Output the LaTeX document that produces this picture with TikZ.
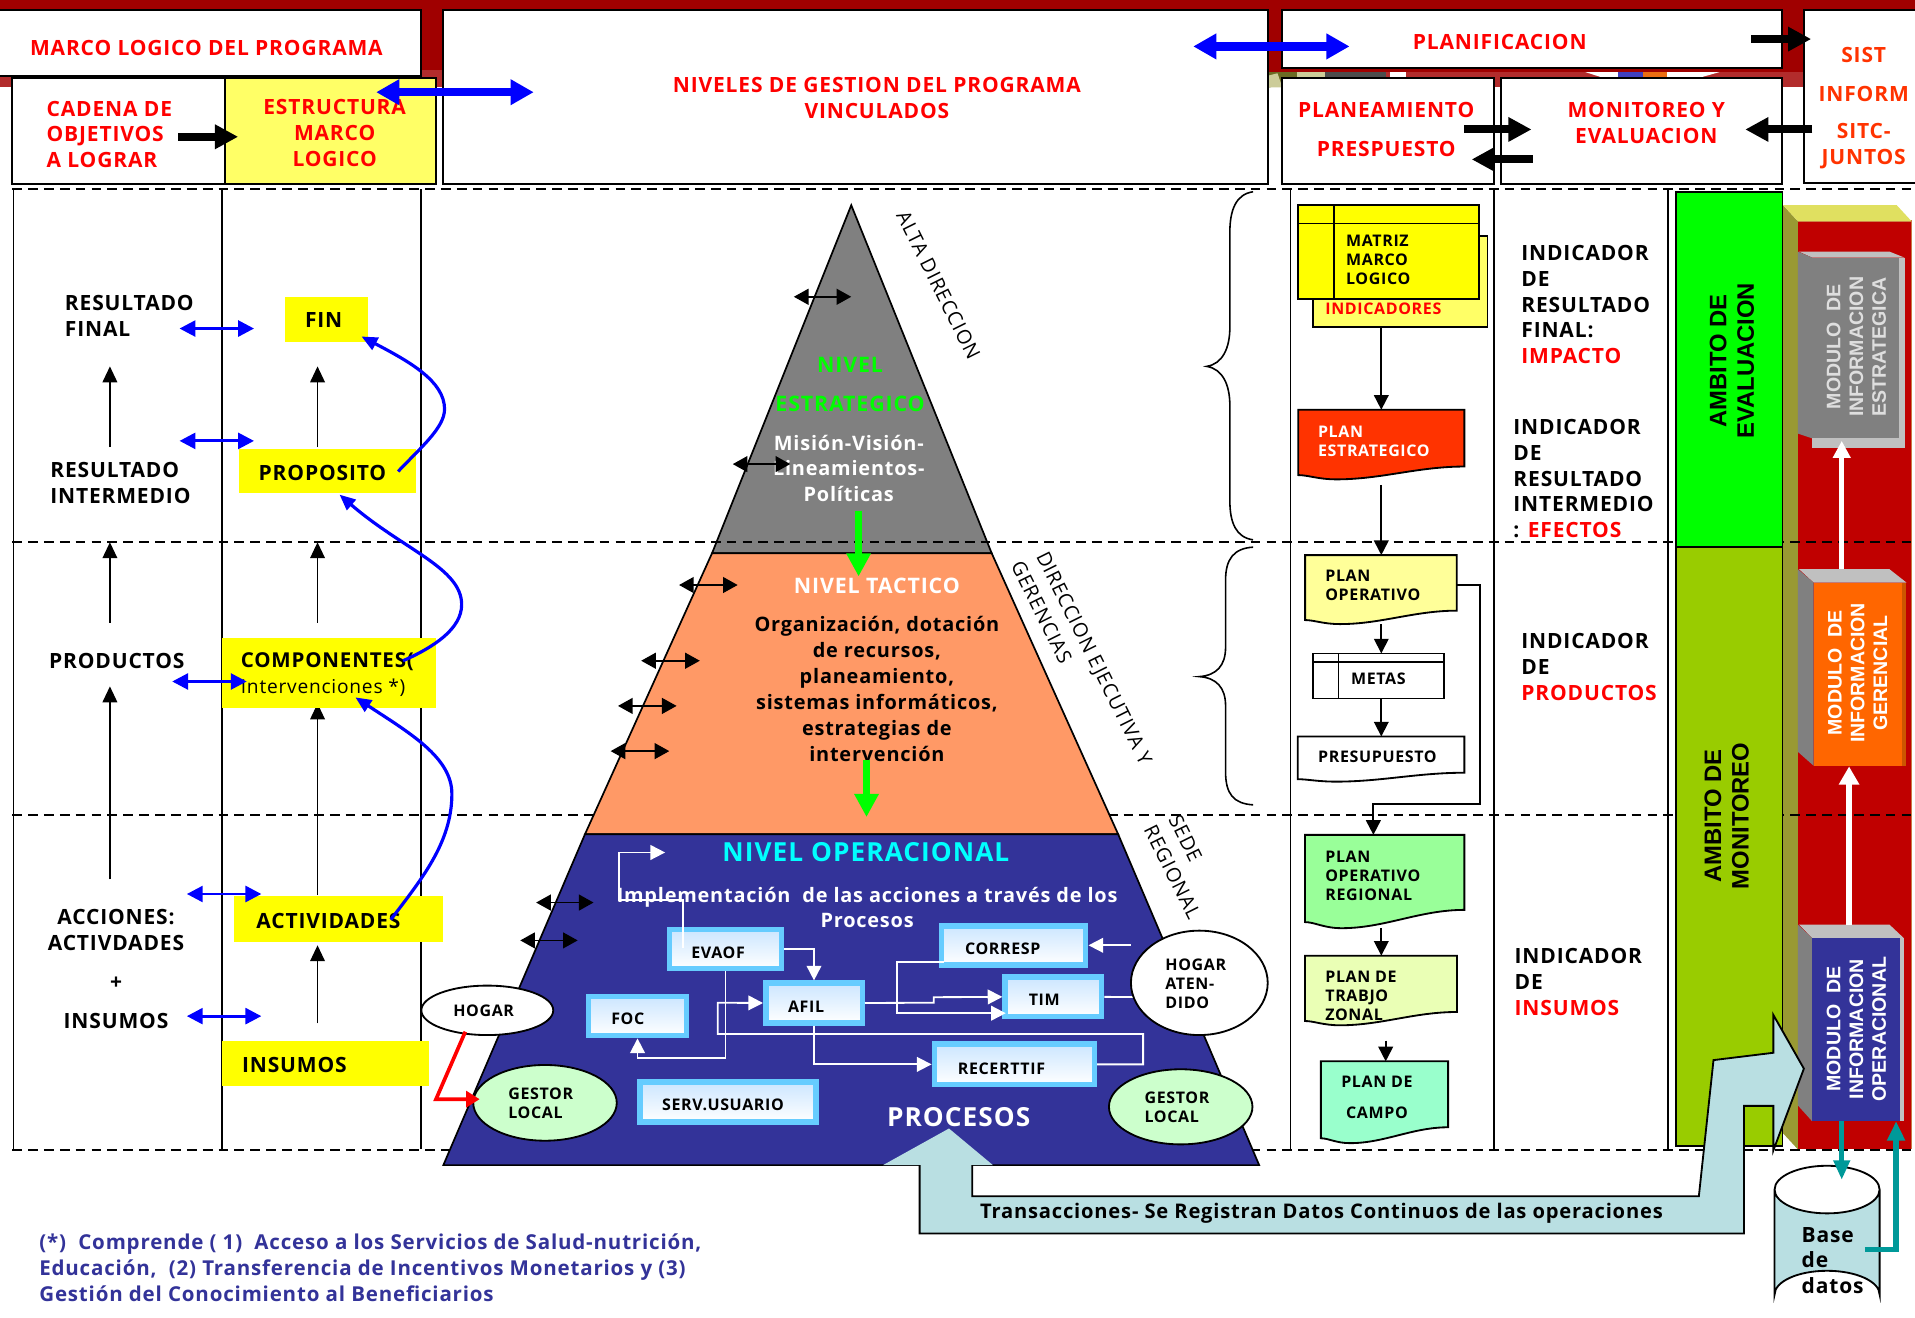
\documentclass[tikz,border=0pt]{standalone}
\usepackage{fontspec}
\setmainfont{Open Sans}[LetterSpace=4]
\newfontfamily\arl{Liberation Sans}
\usetikzlibrary{arrows.meta,shapes.geometric,calc}
\definecolor{yellow}{HTML}{FFFF00}
\definecolor{cyan}{HTML}{00FFFF}
\definecolor{green}{HTML}{00FF00}
\definecolor{red}{HTML}{FF0000}
\definecolor{blue}{HTML}{0000FF}
\definecolor{dkred}{HTML}{A00000}
\definecolor{strip}{HTML}{B22C2C}
\definecolor{lyel}{HTML}{FFFF66}
\definecolor{nav}{HTML}{333399}
\definecolor{oran}{HTML}{FF9966}
\definecolor{ggray}{HTML}{808080}
\definecolor{lgray}{HTML}{C0C0C0}
\definecolor{lime}{HTML}{99CC00}
\definecolor{pred}{HTML}{C00000}
\definecolor{pblue}{HTML}{B9DFE2}
\definecolor{teal2}{HTML}{009999}
\definecolor{skyb}{HTML}{66CCFF}
\definecolor{paleb}{HTML}{CCE6FF}
\definecolor{olside}{HTML}{999933}
\definecolor{yltop}{HTML}{E0E060}
\definecolor{edgeo}{HTML}{CC7744}
\definecolor{morange}{HTML}{FF6600}
\definecolor{mostrip}{HTML}{CC5500}
\definecolor{docred}{HTML}{FF3300}
\definecolor{docyel}{HTML}{FFFF99}
\definecolor{docgrn}{HTML}{99FF99}
\definecolor{docpal}{HTML}{EAFFB5}
\definecolor{docmin}{HTML}{99FFCC}
\definecolor{gest}{HTML}{CCFFCC}
\definecolor{sisto}{HTML}{FF3300}
\newcommand\sz[2]{\fontsize{#1}{#2}\selectfont}
\newcommand\mybox[7]{%
  \pgfmathsetmacro\mycx{(#3+#5)/2}\pgfmathsetmacro\mycy{(#4+#6)/2}%
  \pgfmathsetmacro\myw{abs(#5-#3)}\pgfmathsetmacro\myh{abs(#6-#4)}%
  \node[#2,minimum width=\myw pt,minimum height=\myh pt] (#1) at (\mycx,\mycy) {#7};}
% name, fill, x1,y1,x2,yr,yl,ylow
\newcommand\docnode[8]{%
  \pgfmathsetmacro\myw{#5-#3}%
  \pgfmathsetmacro\pa{#3+.72*\myw}\pgfmathsetmacro\pb{#3+.5*\myw}\pgfmathsetmacro\pc{#3+.23*\myw}%
  \pgfmathsetmacro\pd{#3+.12*\myw}\pgfmathsetmacro\pe{#3+.06*\myw}%
  \draw[line width=1.5pt,fill=#2] (#3,#4) -- (#5,#4) -- (#5,#6)
    .. controls (\pa,#6) and (\pb,#8) .. (\pc,#8)
    .. controls (\pd,#8) and (\pe,#7) .. (#3,#7) -- cycle;
  \mybox{#1}{inner sep=0pt}{#3}{#4}{#5}{#8}{}}
% name, frontcolour, xf1,xf2,xs, yt,yf,yb, stripcolour
\newcommand\modulebox[9]{%
  \fill[#9] (#3,#7) rectangle (#5,#8);
  \fill[lgray] (1473,#6) -- (1547,#6) -- (#5,#7) -- (#3,#7) -- cycle;
  \fill[ggray] (1472,#6) -- (#3,#7) -- (#3,#8) -- (1472,\mylb) -- cycle;
  \mybox{#1}{fill=#2,inner sep=0pt}{#3}{#7}{#4}{#8}{}}
\tikzset{
  hdr/.style={inner sep=0pt,font=\bfseries\sz{17.2}{21},align=center,text=red},
  hdb/.style={inner sep=0pt,font=\bfseries\sz{17.5}{21},align=center},
  lbl/.style={inner sep=0pt,font=\bfseries\sz{17.2}{21},align=left,text=black},
  flowt/.style={inner sep=0pt,font=\bfseries\sz{13.1}{15.5},align=left,text=black},
  prt/.style={inner sep=0pt,font=\bfseries\sz{16.3}{21.2},align=center,text=black},
  blk/.style={draw=black,line width=1.6pt,fill=white,inner sep=0pt},
  dsh/.style={line width=1.5pt,dash pattern=on 8pt off 5pt},
  vln/.style={line width=1.4pt},
  thinup/.style={line width=1.2pt,-{Triangle[length=13pt,width=12pt]}},
  dblk/.style={line width=1.3pt,{Triangle[length=12pt,width=13pt]}-{Triangle[length=12pt,width=13pt]}},
  dblue/.style={blue,line width=2.4pt,{Triangle[length=13pt,width=13pt]}-{Triangle[length=13pt,width=13pt]}},
  bigblue/.style={blue,line width=7pt,{Triangle[length=19pt,width=20pt]}-{Triangle[length=19pt,width=20pt]}},
  bigblk/.style={black,line width=6.5pt,-{Triangle[length=19pt,width=19pt]}},
  curv/.style={blue,line width=2.6pt,-{Triangle[length=13pt,width=11pt]}},
  greenar/.style={green,line width=6pt,-{Triangle[length=19pt,width=19pt]}},
  whar/.style={white,line width=1.5pt,-{Triangle[length=12pt,width=12pt]}},
  fbox/.style={draw=skyb,line width=4.5pt,top color=paleb,bottom color=white,inner sep=0pt},
  floar/.style={line width=1.4pt,-{Triangle[length=12pt,width=12pt]}},
  oval/.style={ellipse,draw=black,line width=1.5pt,inner sep=0pt},
  modt/.style={inner sep=0pt,rotate=90,align=center,font=\arl\bfseries\sz{16}{18.6}},
  amb/.style={inner sep=0pt,rotate=90,align=center,font=\arl\bfseries\sz{19.5}{22.5}},
  rotl/.style={inner sep=0pt,font=\sz{16.2}{18}},
}
\begin{document}
\begin{tikzpicture}[x=1pt,y=-1pt]
\useasboundingbox (0,0) rectangle (1568,1079);
\fill[white] (0,0) rectangle (1568,1079);
% ---- top strip
\fill[dkred] (0,0) rectangle (1568,59);
\fill[strip] (0,57) rectangle (362,71.5);
\fill[strip] (1038,59) rectangle (1477,71.5);
\fill[white] (362,59) rectangle (1038,72);
\fill[white] (1478,59) rectangle (1568,72);
\fill[olside!70!black] (1038,59) -- (1075,59) -- (1040,71.5) -- (1038,71.5) -- cycle;
\fill[olside!50!white] (1038,62) -- (1046,60) -- (1050,71.5) -- (1038,71.5) -- cycle;
\fill[black!70] (1085,59) rectangle (1135,63);
\fill[olside!50!white] (1062,59) rectangle (1085,63);
\fill[white] (1138,59) rectangle (1151,63.5);
\fill[white] (1298,59) -- (1408,59) -- (1392,63.5) -- (1312,63.5) -- cycle;
\fill[blue!50!gray] (1325,59) rectangle (1345,63.5);
\fill[morange!70!brown] (1345,59) rectangle (1365,63.5);
% ---- header boxes
\mybox{marco}{blk}{-3}{8}{345}{62}{}
\node[hdr] (tmarco) at (169,39) {MARCO LOGICO DEL PROGRAMA};
\mybox{nivel}{blk}{363}{8}{1038}{151}{}
\node[hdr] (tnivel) at (718,80) {NIVELES DE GESTION DEL PROGRAMA\\VINCULADOS};
\mybox{plani}{blk}{1050}{8}{1459}{56}{}
\node[hdr] (tplani) at (1228,34) {PLANIFICACION};
\mybox{sist}{blk}{1477}{8}{1575}{150}{}
\node[hdr,text=sisto] (tsist) at (1526,45) {SIST};
\node[hdr,text=sisto] (tinf) at (1526,77) {INFORM};
\node[hdr,text=sisto] (tsit) at (1526,119.5) {SITC-\\JUNTOS};
\mybox{cad}{blk}{10}{64}{184}{151}{}
\node[hdr,align=left,anchor=west] (tcad) at (38,110) {CADENA DE\\OBJETIVOS\\A LOGRAR};
\mybox{estr}{blk,fill=lyel}{184}{64}{357}{151}{}
\node[hdr] (testr) at (274,109) {ESTRUCTURA\\MARCO\\LOGICO};
\mybox{plan}{blk}{1050}{64}{1223}{151}{}
\node[hdr] (tplan) at (1135,90) {PLANEAMIENTO};
\node[hdr] (tpres) at (1135,122) {PRESPUESTO};
\mybox{moni}{blk}{1229}{64}{1459}{151}{}
\node[hdr] (tmoni) at (1348,100.5) {MONITOREO Y\\EVALUACION};
% ---- right red panel
\fill[pred] (1472,181) rectangle (1565,941);
\draw[edgeo,line width=1pt] (1472,941) -- (1472,181) -- (1565,181) -- (1565,941);
\fill[olside] (1460,168) -- (1472,181) -- (1472,941) -- (1460,928) -- cycle;
\fill[yltop] (1460,168) -- (1553,168) -- (1565,181) -- (1472,181) -- cycle;
% ---- gray pyramid top (dashed line crosses it)
\coordinate (apex) at (697,168);
\draw[fill=ggray,line width=1.4pt] (apex) -- (812,453) -- (583,453) -- cycle;
% ---- dashed lines
\draw[dsh] (10,155) -- (1568,155);
\draw[dsh] (10,444) -- (1568,444);
\draw[dsh] (10,667) -- (1568,667);
\draw[dsh] (10,941.5) -- (1568,941.5);
% ---- verticals
\foreach \x in {11,182,345,1056.7,1223.5,1366}
  \draw[vln] (\x,155) -- (\x,941);
% ---- pyramid lower parts
\draw[fill=oran,line width=1.4pt] (583,453) -- (812,453) -- (915.5,683) -- (479,683) -- cycle;
\draw[fill=nav,line width=1.4pt] (479,683) -- (915.5,683) -- (1031,954) -- (363,954) -- cycle;
% ---- pyramid text
\node[hdb,text=green] (nest) at (696,299) {NIVEL};
\node[hdb,text=green] (nest2) at (696,331) {ESTRATEGICO};
\node[prt,text=white] (tmis) at (695,383.5) {Misión-Visión-\\Lineamientos-\\Políticas};
\node[hdb,text=white] (ntac) at (718,480) {NIVEL TACTICO};
\node[prt] (torg) at (718,564) {Organización, dotación\\de recursos,\\planeamiento,\\sistemas informáticos,\\estrategias de\\intervención};
\node[hdb,text=cyan,font=\bfseries\sz{21.5}{24}] (nop) at (709,698) {NIVEL OPERACIONAL};
\node[prt,text=white] (timp) at (710,743) {Implementación\ \ de las acciones a través de los\\Procesos};
\node[hdb,text=white,font=\bfseries\sz{21.5}{24}] (tproc) at (785,915) {PROCESOS};
% ---- rotated labels
\node[rotl,rotate=-63.5] (lalta) at (768.5,233.5) {ALTA DIRECCION};
\node[rotl,rotate=-63.5] (ldir) at (894.8,539.3) {DIRECCION EJECUTIVA Y};
\node[rotl,rotate=-63.5] (lger) at (853,501.4) {GERENCIAS};
\node[rotl,rotate=-63.5] (lsed) at (970.7,686.4) {SEDE};
\node[rotl,rotate=-63.5] (lreg) at (960,714) {REGIONAL};
% ---- black double arrows
\foreach \a/\b/\y in {650/697/243,600/647/380,556/604/479,525/573/541,506/554/578,500/548/615,439/486/739,426/473/770}
  \draw[dblk] (\a,\y) -- (\b,\y);
% ---- green arrows
\draw[greenar] (703,418) -- (703,472);
\draw[greenar] (709.5,622) -- (709.5,669);
% ---- process boxes
\mybox{evaof}{fbox}{548}{761}{640}{793}{}
\mybox{afil}{fbox}{627}{805}{706}{837.5}{}
\mybox{foc}{fbox}{482}{816}{562}{848}{}
\mybox{corresp}{fbox}{771}{758}{889}{790}{}
\mybox{tim}{fbox}{823}{800}{902}{832.5}{}
\mybox{recert}{fbox}{765}{855}{896}{888}{}
\mybox{serv}{fbox}{524}{886}{668}{918.5}{}
% ---- process connectors
\coordinate (hoA) at (926,774);
\coordinate (evIn) at (559.4,776);
\coordinate (coIn) at (772.7,787.4);
\draw[whar] (evIn) -- (559.4,736.7) -- (506.5,736.7) -- (506.5,698) -- (544.6,698);
\draw[whar] (evaof.east) -| (afil.north);
\draw[whar] (evaof.south) |- ([yshift=-16pt]foc.south) -- (foc.south);
\draw[whar] (recert.east) -- (936,871.5) -- (936,846.6) -- (587.7,846.6) -- (587.7,821) -- (afil.west);
\draw[whar] (afil.south) |- (recert.west);
\draw[whar] (afil.east) -- (764.6,821) -- (764.6,816.5) -- (tim.west);
\draw[whar] (coIn) -- (734.5,787.4) -- (734.5,829.6) -- (823.5,829.6);
\draw[white,line width=1.5pt] (tim.east) -- (927.6,816.3);
\draw[whar] (hoA) -- (corresp.east);
\node[flowt] (tevaof) at (588,780) {EVAOF};
\node[flowt] (tafil) at (660,824) {AFIL};
\node[flowt] (tfoc) at (514,834) {FOC};
\node[flowt] (tcorr) at (821,777) {CORRESP};
\node[flowt] (ttim) at (855,819) {TIM};
\node[flowt] (trec) at (820,875) {RECERTTIF};
\node[flowt] (tserv) at (592,905) {SERV.USUARIO};
% ---- ovals
\mybox{hogar}{oval,fill=white}{345}{807}{453}{847.5}{}
\node[flowt] (thog) at (396,828) {HOGAR};
\mybox{hatend}{oval,fill=white}{926}{762}{1038}{847.5}{}
\node[flowt,anchor=west] (thatend) at (954,805.5) {HOGAR\\ATEN-\\DIDO};
\mybox{gl}{oval,fill=gest}{387.5}{872}{505}{934}{}
\node[flowt,anchor=west] (tgl) at (416,903) {GESTOR\\LOCAL};
\mybox{gr}{oval,fill=gest}{908}{875.5}{1025.5}{937}{}
\node[flowt,anchor=west] (tgr) at (937,906.5) {GESTOR\\LOCAL};
\draw[red,line width=3pt,-{Triangle[length=11pt,width=13pt]}] ([xshift=-18pt,yshift=-17.5pt]hogar.center) -- (357,900) -- ([xshift=6pt,yshift=3pt]gl.west);
% ---- braces
\coordinate (b1t) at (1026,157); \coordinate (b1m) at (988,300); \coordinate (b1b) at (1026,442);
\coordinate (b2t) at (1026,448); \coordinate (b2m) at (982,554); \coordinate (b2b) at (1026,659);
\draw[line width=1.3pt] (b1t) .. controls (1012,159) and (1007,172) .. (1007,190) -- (1007,268) .. controls (1007,285) and (1001,298) .. (b1m)
  .. controls (1001,302) and (1007,315) .. (1007,332) -- (1007,410) .. controls (1007,428) and (1012,440) .. (b1b);
\draw[line width=1.3pt] (b2t) .. controls (1010,449) and (1003.5,458) .. (1003.5,475) -- (1003.5,530) .. controls (1003.5,545) and (996,553) .. (b2m)
  .. controls (996,555) and (1003.5,563) .. (1003.5,578) -- (1003.5,632) .. controls (1003.5,650) and (1010,658) .. (b2b);
% ---- left column
\node[lbl,anchor=west] (rf) at (53,258.5) {RESULTADO\\FINAL};
\node[lbl,anchor=west] (ri) at (41,395.5) {RESULTADO\\INTERMEDIO};
\node[lbl,anchor=west] (pr) at (40,541) {PRODUCTOS};
\node[lbl,align=center] (ac) at (95,761.5) {ACCIONES:\\ACTIVDADES};
\node[lbl] (mas) at (95,805) {+};
\node[lbl] (ins) at (95,836) {INSUMOS};
\foreach \x/\a/\b in {90/366/300,90/510/444,90/720/562,260/366/300,260/510/444,260/733/576,260/838/774}
  \draw[thinup] (\x,\a) -- (\x,\b);
\mybox{fin}{fill=yellow,inner sep=0pt}{233}{243}{301}{280}{}
\node[lbl] (tfin) at (265,262) {FIN};
\mybox{prop}{fill=yellow,inner sep=0pt}{196}{368}{341}{404}{}
\node[lbl] (tprop) at (264,387) {PROPOSITO};
\mybox{comp}{fill=yellow,inner sep=0pt}{182}{522}{357}{580}{}
\node[lbl,anchor=west,font=\bfseries\sz{16.8}{20}] (tcomp) at (197,542) {COMPONENTES(};
\node[lbl,anchor=west,font=\sz{15.7}{20}] (tcomp2) at (197,563) {Intervenciones *)};
\mybox{acti}{fill=yellow,inner sep=0pt}{192}{734}{363}{771}{}
\node[lbl] (tacti) at (269,754) {ACTIVIDADES};
\mybox{insu}{fill=yellow,inner sep=0pt}{182}{852}{351}{889}{}
\node[lbl,anchor=west] (tinsu) at (198,872) {INSUMOS};
\foreach \a/\b/\y in {147/208/269,147/208/361,141/202/558,153/214/732,153/214/832}
  \draw[dblue] (\a,\y) -- (\b,\y);
\coordinate (cp) at (326,386);
\coordinate (cc) at (330,541);
\coordinate (ca) at (320,753);
\draw[curv] (cp) .. controls (345,366) and (364,350) .. (364,335) .. controls (364,312) and (335,296) .. (296,275.5);
\draw[curv] (cc) .. controls (355,530) and (378,515) .. (378,495) .. controls (378,465) and (330,450) .. (278,405);
\draw[curv] (ca) .. controls (345,720) and (370,690) .. (370,650) .. controls (370,620) and (335,600) .. (291,571);
% ---- flow column
\mybox{ind}{draw=black,line width=1.5pt,fill=lyel,inner sep=0pt}{1075}{193}{1218}{267.6}{}
\node[flowt,anchor=west,text=red] (tind) at (1085,252.5) {INDICADORES};
\mybox{mat}{draw=black,line width=1.5pt,fill=yellow,inner sep=0pt}{1063}{168}{1211}{244.5}{}
\draw[line width=1.5pt] (1063,183) -- (1211,183) (1092,168) -- (1092,244.5);
\node[flowt,anchor=west] (tmat) at (1102,212.5) {MATRIZ\\MARCO\\LOGICO};
\docnode{pest}{docred}{1063}{335.5}{1199}{382}{389}{392.5}
\node[flowt,anchor=west,text=white] (tpest) at (1079,361) {PLAN\\ESTRATEGICO};
\docnode{pop}{docyel}{1068.6}{454.5}{1192.8}{500}{507.7}{511}
\node[flowt,anchor=west] (tpop) at (1085,479.5) {PLAN\\OPERATIVO};
\mybox{metas}{draw=black,line width=1.4pt,fill=white,inner sep=0pt}{1075}{535}{1182.4}{572}{}
\draw[line width=1.3pt] (1075,542) -- (1182.4,542) (1096,535) -- (1096,572);
\node[flowt] (tmetas) at (1128.6,556) {METAS};
\docnode{ppre}{white}{1062.6}{603}{1199}{632.7}{638}{640}
\node[flowt] (tppre) at (1127.8,620) {PRESUPUESTO};
\docnode{preg}{docgrn}{1068.5}{683.6}{1199}{745}{755}{760}
\node[flowt,anchor=west] (tpreg) at (1085,717) {PLAN\\OPERATIVO\\REGIONAL};
\docnode{ptra}{docpal}{1068.5}{782.5}{1193}{828.6}{836}{839.5}
\node[flowt,anchor=west] (tptra) at (1085,815.5) {PLAN DE\\TRABJO\\ZONAL};
\docnode{pcam}{docmin}{1081.5}{869}{1185.7}{923}{932}{936}
\node[flowt,anchor=west] (tpcam) at (1098,886) {PLAN DE};
\node[flowt,anchor=west] (tpcam2) at (1102,911) {CAMPO};
\draw[floar] (1131,267.6) -- (1131,335.5);
\draw[floar] (1131,397) -- (1131,454.5);
\draw[floar] (1131,511) -- (1131,535);
\draw[floar] (1131,572) -- (1131,603);
\draw[floar] (1131,760) -- (1131,782.5);
\draw[floar] (1134.6,852) -- (1134.6,869);
\draw[line width=1.5pt,-{Triangle[length=12pt,width=12pt]}] (1192.8,479) -- (1211.5,479) -- (1211.5,658.6) -- (1124.5,658.6) -- (1124.5,683.6);
% ---- indicators
\node[lbl,anchor=west] (i1) at (1245.5,249.5) {INDICADOR\\DE\\RESULTADO\\FINAL:\\\textcolor{red}{IMPACTO}};
\node[lbl,anchor=west] (i2) at (1239,392) {INDICADOR\\DE\\RESULTADO\\INTERMEDIO\\: \textcolor{red}{EFECTOS}};
\node[lbl,anchor=west] (i3) at (1245.5,546) {INDICADOR\\DE\\\textcolor{red}{PRODUCTOS}};
\node[lbl,anchor=west] (i4) at (1240,804) {INDICADOR\\DE\\\textcolor{red}{INSUMOS}};
% ---- ambit panels
\mybox{aev}{draw=black,line width=1.5pt,fill=green,inner sep=0pt}{1372.5}{157}{1459.5}{448}{}
\mybox{amo}{draw=black,line width=1.5pt,fill=lime,inner sep=0pt}{1372.5}{448}{1459.5}{938}{}
\node[amb] (taev) at (1418,295.5) {AMBITO DE\\EVALUACION};
\node[amb] (tamo) at (1413.8,668) {AMBITO DE\\MONITOREO};
% ---- modules
\def\mylb{355}
\modulebox{modg}{ggray}{1484}{1555}{1559.5}{206}{211}{359}{lgray}
\fill[lgray] (1484,359) rectangle (1559.5,367);
\node[modt,text=white!87!black] (tmodg) at (1520,284) {MODULO\ \ DE\\INFORMACION\\ESTRATEGICA};
\def\mylb{615.5}
\modulebox{modo}{morange}{1485}{1557.5}{1561}{466}{477}{627}{mostrip}
\node[modt,text=white] (tmodo) at (1521,551) {MODULO\ \ DE\\INFORMACION\\GERENCIAL};
\def\mylb{905}
\modulebox{modb}{nav}{1483.7}{1555.8}{1558.7}{757}{768}{918}{lgray}
\node[modt,text=white] (tmodb) at (1520,842.6) {MODULO\ \ DE\\INFORMACION\\OPERACIONAL};
\draw[white,line width=4.5pt,-{Triangle[length=14pt,width=14pt]}] (1508,466) -- (1508,361);
\draw[white,line width=4.5pt,-{Triangle[length=15pt,width=16pt]}] (1514,757) -- (1514,627.5);
% ---- database
\fill[pblue] (1453,974) arc[x radius=43,y radius=19.5,start angle=180,end angle=0] -- (1539,1060) arc[x radius=43,y radius=19.5,start angle=0,end angle=-180] -- cycle;
\draw[line width=1.5pt] (1453,974) arc[x radius=43,y radius=19.5,start angle=180,end angle=-180] -- (1453,1060) arc[x radius=43,y radius=19.5,start angle=180,end angle=360] -- (1539,974);
\node[lbl,anchor=west] (tdb) at (1475,1032) {Base\\de\\datos};
\draw[teal2,line width=4.5pt,-{Triangle[length=16pt,width=13pt]}] (modb.south -| 1508,0) -- (1508,966);
\coordinate (dbR) at (1527,1023);
\draw[teal2,line width=4.5pt,-{Triangle[length=16pt,width=14pt]}] (dbR) -- (1552.5,1023) -- (1552.5,918);
% ---- block arrow
\fill[pblue] (777,924) -- (813,954) -- (796,954) -- (796,979.5) -- (1391,979.5) -- (1403,868) -- (1452,862) -- (1452,831) -- (1477,875) -- (1452,942) -- (1452,905.5) -- (1428,905.5) -- (1428,1010) -- (753,1010) -- (753,954) -- (723,954) -- cycle;
\draw[line width=1.5pt,line join=miter] (796,954) -- (796,979.5) -- (1391,979.5) -- (1403,868) -- (1452,862) -- (1452,831) -- (1477,875) -- (1452,942) -- (1452,905.5) -- (1428,905.5) -- (1428,1010) -- (753,1010) -- (753,954);
\node[prt,font=\bfseries\sz{16.5}{19}] (ttr) at (1082,993) {Transacciones- Se Registran Datos Continuos de las operaciones};
% ---- top arrows
\draw[bigblue] (308,75.5) -- (437,75.5);
\draw[bigblue] (977,38) -- (1105,38);
\draw[bigblk] (146,112) -- (195,112);
\draw[bigblk] (1199,106) -- (1254,106);
\draw[bigblk] (1255,130.5) -- (1205,130.5);
\draw[bigblk] (1484,106) -- (1429,106);
\draw[bigblk] (1434,32) -- (1483,32);
% ---- footnote
\node[inner sep=0pt,anchor=west,align=left,text=nav,font=\bfseries\sz{16.8}{21}] (foot) at (32,1038)
 {(*)\ \ Comprende ( 1)\ \ Acceso a los Servicios de Salud-nutrición,\\Educación,\ \ (2) Transferencia de Incentivos Monetarios y (3)\\Gestión del Conocimiento al Beneficiarios};
\end{tikzpicture}
\end{document}
